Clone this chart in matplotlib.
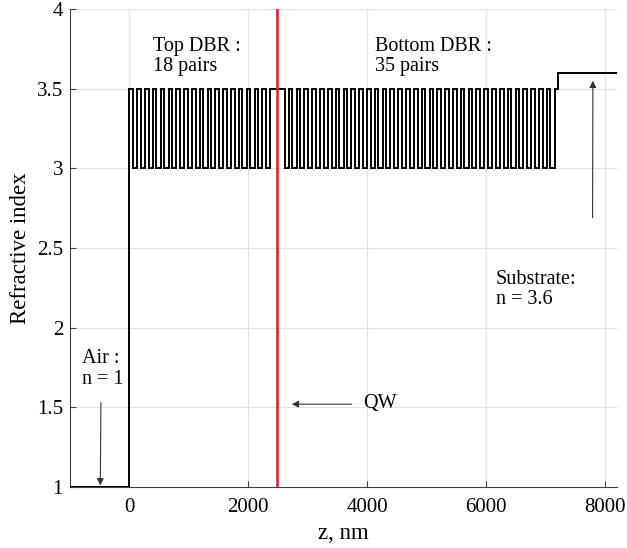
import numpy as np
import matplotlib
matplotlib.use("Agg")
import matplotlib.pyplot as plt

# ---- data ----
n_air = 1.0
n_high = 3.5
n_low = 3.0
n_sub = 3.6
d_high = 60.7      # nm
d_low = 70.8       # nm
d_cavity = 242.9   # nm
top_pairs = 18
bottom_pairs = 35
z_start = -1000
z_end = 8200
qw_pos = 2480

x_ticks = [0, 2000, 4000, 6000, 8000]
y_ticks = [1, 1.5, 2, 2.5, 3, 3.5, 4]
y_ticklabels = ['1', '1.5', '2', '2.5', '3', '3.5', '4']

# ---- build the layer stack ----
layers = [(n_air, 0 - z_start)]
layers += [(n_high, d_high), (n_low, d_low)] * top_pairs
layers += [(n_high, d_cavity)]
layers += [(n_low, d_low), (n_high, d_high)] * bottom_pairs
total = sum(t for _, t in layers[1:])
layers += [(n_sub, z_end - total)]

edges = [z_start]
for n, t in layers:
    edges.append(edges[-1] + t)
values = [n for n, _ in layers]

plt.rcParams['font.family'] = ['Liberation Serif', 'DejaVu Serif']

fig = plt.figure(figsize=(6.27, 5.48), dpi=100)
ax = fig.add_axes([0.1116, 0.1113, 0.8724, 0.8723])

ax.stairs(values, edges, baseline=None, color='black', linewidth=1.4, zorder=3)
ax.axvline(qw_pos, color='#e8181e', linewidth=1.8, zorder=4)

ax.set_xlim(z_start, z_end)
ax.set_ylim(1, 4)
ax.set_xticks(x_ticks)
ax.set_yticks(y_ticks)
ax.set_yticklabels(y_ticklabels)
ax.grid(True, color='#e3e3e3', linewidth=0.8, zorder=0)
ax.set_axisbelow(True)
for s in ['top', 'right']:
    ax.spines[s].set_visible(False)
for s in ['left', 'bottom']:
    ax.spines[s].set_color('#404040')
    ax.spines[s].set_linewidth(0.8)
ax.tick_params(direction='in', length=4, width=0.8, colors='#404040',
               labelcolor='black', labelsize=15)
ax.tick_params(axis='x', pad=8)
ax.tick_params(axis='y', pad=5)

ax.set_xlabel('z, nm', fontsize=16.5, labelpad=4)
ax.set_ylabel('Refractive index', fontsize=16.5, labelpad=4)

fs = 14.5
ls = 1.1
ax.text(395, 3.70, 'Top DBR :\n18 pairs', fontsize=fs, ha='left', va='center', linespacing=ls)
ax.text(4126, 3.70, 'Bottom DBR :\n35 pairs', fontsize=fs, ha='left', va='center', linespacing=ls)
ax.text(6160, 2.24, 'Substrate:\nn = 3.6', fontsize=fs, ha='left', va='center', linespacing=ls)
ax.text(-790, 1.74, 'Air :\nn = 1', fontsize=fs, ha='left', va='center', linespacing=ls)
ax.text(3925, 1.525, 'QW', fontsize=fs, ha='left', va='center')

arrow = dict(arrowstyle='-|>', color='#333333', lw=0.8, mutation_scale=10,
             shrinkA=0, shrinkB=0)
ax.annotate('', xy=(2730, 1.52), xytext=(3740, 1.52), arrowprops=arrow)
ax.annotate('', xy=(-490, 1.01), xytext=(-479, 1.53), arrowprops=arrow)
ax.annotate('', xy=(7795, 3.55), xytext=(7790, 2.69), arrowprops=arrow)

fig.savefig('out.png', dpi=100)
